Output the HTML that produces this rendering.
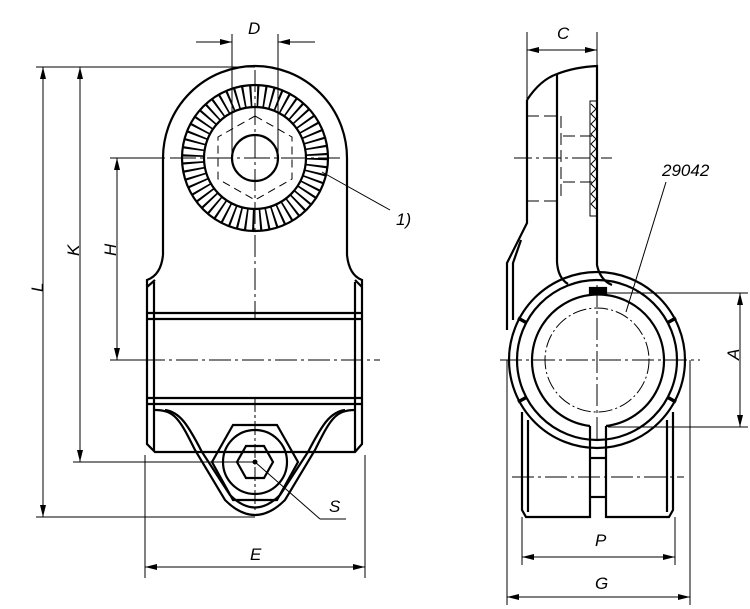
<!DOCTYPE html>
<html><head><meta charset="utf-8"><style>
html,body{margin:0;padding:0;background:#fff}
svg{display:block}
text{font-family:"Liberation Sans",sans-serif;font-style:italic;font-size:17px;fill:#000}
</style></head><body>
<svg width="750" height="609" viewBox="0 0 750 609" xmlns="http://www.w3.org/2000/svg">
<defs>
<marker id="a" viewBox="0 0 12 6" refX="12" refY="3" markerWidth="12" markerHeight="6" orient="auto-start-reverse" markerUnits="userSpaceOnUse"><path d="M0,0 L12,3 L0,6z" fill="#000"/></marker>
</defs>
<g fill="none" stroke="#000">
<!-- LEFT VIEW -->
<g stroke-width="1">
<line x1="36" y1="67" x2="255" y2="67"/>
<line x1="36" y1="517" x2="255" y2="517"/>
<line x1="73" y1="462" x2="255" y2="462"/>
<line x1="110" y1="158" x2="165" y2="158"/>
<line x1="110" y1="360" x2="150" y2="360"/>
<line x1="43" y1="67" x2="43" y2="517" marker-start="url(#a)" marker-end="url(#a)"/>
<line x1="80" y1="67" x2="80" y2="462" marker-start="url(#a)" marker-end="url(#a)"/>
<line x1="117" y1="158" x2="117" y2="360" marker-start="url(#a)" marker-end="url(#a)"/>
<line x1="232" y1="34" x2="232" y2="158"/>
<line x1="278" y1="34" x2="278" y2="158"/>
<line x1="196" y1="42" x2="232" y2="42" marker-end="url(#a)"/>
<line x1="315" y1="42" x2="278" y2="42" marker-end="url(#a)"/>
<line x1="145" y1="455" x2="145" y2="578"/>
<line x1="365" y1="455" x2="365" y2="578"/>
<line x1="145" y1="567" x2="365" y2="567" marker-start="url(#a)" marker-end="url(#a)"/>
<line x1="322" y1="172" x2="390" y2="210"/>
<line x1="255" y1="462" x2="320" y2="519"/>
<line x1="320" y1="519" x2="346" y2="519"/>
<g stroke-dasharray="22 4 3 4">
<line x1="110" y1="360" x2="380" y2="360"/>
<line x1="170" y1="158" x2="340" y2="158" stroke-dasharray="26 4 3 4"/>
<line x1="255" y1="70" x2="255" y2="320"/>
<line x1="255" y1="398" x2="255" y2="512" stroke-dasharray="14 3 3 3"/>
</g>
<polygon points="255,116 292,137 292,179 255,200 218,179 218,137" stroke-dasharray="8 5"/>
</g>
<g stroke-width="2.2">
<path d="M163,255 L163,158 A92,92 0 0 1 347,158 L347,255 Q349,275 362,280 L362,444 L355,452 L155,452 L147,444 L147,280 Q161,275 163,255"/>
<line x1="147" y1="287" x2="155" y2="280"/>
<line x1="362" y1="287" x2="355" y2="280"/>
<line x1="154" y1="282" x2="154" y2="451"/>
<line x1="355" y1="282" x2="355" y2="451"/>
<line x1="147" y1="313" x2="362" y2="313"/>
<line x1="147" y1="319" x2="362" y2="319"/>
<line x1="147" y1="398" x2="362" y2="398"/>
<line x1="147" y1="404" x2="362" y2="404"/>
<circle cx="255" cy="158" r="73"/>
<circle cx="255" cy="158" r="51"/>
<circle cx="255" cy="158" r="23"/>
<path d="M155,410 C175,410 180,420 195,450 L225,500 Q255,530 285,500 L315,450 C330,420 335,410 355,410"/>
<path d="M165,410 C180,412 188,425 202,452 L230,495 Q255,520 280,495 L308,452 C322,425 330,412 345,410"/>
<polygon points="233,425 277,425 298,462 277,500 233,500 212,462"/>
<circle cx="255" cy="462" r="32"/>
<polygon points="246,446 264,446 273,462 264,478 246,478 237,462"/>
</g>
<circle cx="255" cy="158" r="62" stroke-width="21" stroke-dasharray="1.9 5.1"/>
<circle cx="255" cy="462" r="2" fill="#000"/>

<!-- RIGHT VIEW -->
<g stroke-width="1">
<line x1="527" y1="32" x2="527" y2="100"/>
<line x1="597" y1="32" x2="597" y2="66"/>
<line x1="527" y1="50" x2="597" y2="50" marker-start="url(#a)" marker-end="url(#a)"/>
<line x1="600" y1="293" x2="748" y2="293"/>
<line x1="608" y1="427" x2="748" y2="427"/>
<line x1="740" y1="293" x2="740" y2="427" marker-start="url(#a)" marker-end="url(#a)"/>
<line x1="507" y1="360" x2="507" y2="605"/>
<line x1="690" y1="360" x2="690" y2="605"/>
<line x1="522" y1="517" x2="522" y2="565"/>
<line x1="675" y1="517" x2="675" y2="565"/>
<line x1="522" y1="557" x2="675" y2="557" marker-start="url(#a)" marker-end="url(#a)"/>
<line x1="507" y1="597" x2="690" y2="597" marker-start="url(#a)" marker-end="url(#a)"/>
<line x1="666" y1="182" x2="626" y2="312"/>
<g stroke-dasharray="22 4 3 4">
<line x1="500" y1="360" x2="700" y2="360"/>
<line x1="597" y1="285" x2="597" y2="440"/>
<line x1="512" y1="477" x2="684" y2="477"/>
<line x1="514" y1="158" x2="612" y2="158" stroke-dasharray="18 4 3 4"/>
</g>
<circle cx="597" cy="360" r="52" stroke-dasharray="14 3 2 3"/>
<g stroke-dasharray="12 5">
<line x1="527" y1="116" x2="561" y2="116"/>
<line x1="527" y1="201" x2="561" y2="201"/>
<line x1="561" y1="116" x2="561" y2="201"/>
<line x1="563" y1="136" x2="597" y2="136"/>
<line x1="563" y1="182" x2="597" y2="182"/>
</g>
<rect x="590" y="101" width="7" height="115"/>
<path d="M591,104 l5,5 l-5,5 l5,5 l-5,5 l5,5 l-5,5 l5,5 l-5,5 l5,5 l-5,5 l5,5 l-5,5 l5,5 l-5,5 l5,5 l-5,5 l5,5 l-5,5 l5,5 l-5,5 l5,5"/>
</g>
<g stroke-width="2.2">
<path d="M527,100 L527,223 L507,263 L507,330"/>
<path d="M521,240 L513,263 L513,320"/>
<path d="M527,100 Q540,80 557,74 Q575,67 597,66 L597,265 Q600,280 612,285"/>
<path d="M557,74 L557,262 Q558,278 568,284"/>
<circle cx="597" cy="360" r="88"/>
<circle cx="597" cy="360" r="80"/>
<g stroke-width="3.5">
<line x1="518" y1="318" x2="527" y2="323"/>
<line x1="518" y1="402" x2="527" y2="397"/>
<line x1="676" y1="318" x2="667" y2="323"/>
<line x1="676" y1="402" x2="667" y2="397"/>
</g>
<path d="M590,426 A66,66 0 1 1 606,426"/>
<rect x="590" y="288" width="16" height="5" fill="#000"/>
<path d="M590,426 L590,517 L526,517 L522,510 L522,412"/>
<path d="M606,426 L606,517 L669,517 L673,510 L673,412"/>
<line x1="528" y1="420" x2="528" y2="512"/>
<line x1="667" y1="420" x2="667" y2="512"/>
<line x1="590" y1="458" x2="606" y2="458"/>
<line x1="590" y1="497" x2="606" y2="497"/>
</g>
</g>
<text x="248" y="34">D</text>
<text x="250" y="560">E</text>
<text x="37" y="298" transform="rotate(-90 37 292)">L</text>
<text x="73" y="262" transform="rotate(-90 73 256)">K</text>
<text x="110" y="262" transform="rotate(-90 110 256)">H</text>
<text x="396" y="225">1)</text>
<text x="329" y="512">S</text>
<text x="557" y="39">C</text>
<text x="662" y="176">29042</text>
<text x="733" y="366" transform="rotate(-90 733 360)">A</text>
<text x="595" y="546">P</text>
<text x="595" y="589">G</text>
</svg>
</body></html>
